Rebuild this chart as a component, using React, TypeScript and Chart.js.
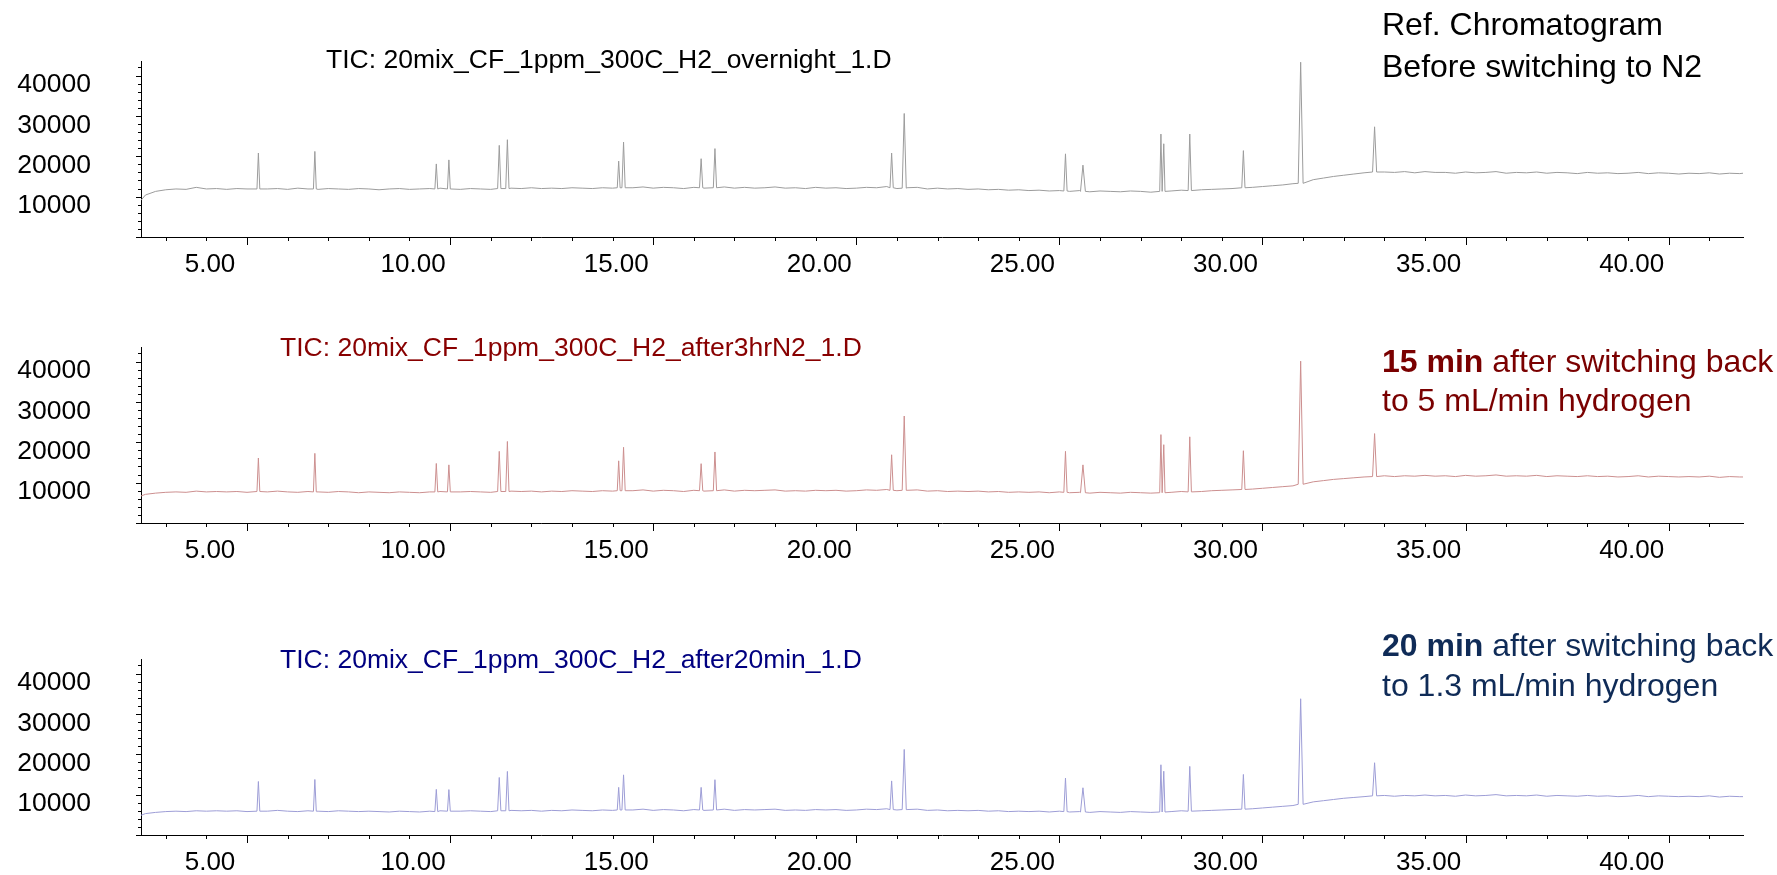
import React, { useEffect, useRef } from 'react';
import { Chart, registerables } from 'chart.js';

Chart.register(...registerables);

// ---- Data (retention time in minutes, abundance) ----
const baseTimes = [
  2.39,
  2.5, 2.75, 3, 3.25, 3.5, 3.75, 4, 4.25,
  4.5, 4.75, 5, 5.25, 5.5, 5.75, 6, 6.25,
  6.5, 6.75, 7, 7.25, 7.5, 7.75, 8, 8.25,
  8.5, 8.75, 9, 9.25, 9.5, 9.75, 10, 10.25,
  10.5, 10.75, 11, 11.25, 11.5, 11.75, 12, 12.25,
  12.5, 12.75, 13, 13.25, 13.5, 13.75, 14, 14.25,
  14.5, 14.75, 15, 15.25, 15.5, 15.75, 16, 16.25,
  16.5, 16.75, 17, 17.25, 17.5, 17.75, 18, 18.25,
  18.5, 18.75, 19, 19.25, 19.5, 19.75, 20, 20.25,
  20.5, 20.75, 21, 21.25, 21.5, 21.75, 22, 22.25,
  22.5, 22.75, 23, 23.25, 23.5, 23.75, 24, 24.25,
  24.5, 24.75, 25, 25.25, 25.5, 25.75, 26, 26.25,
  26.5, 26.75, 27, 27.25, 27.5, 27.75, 28, 28.25,
  28.5, 28.75, 29, 29.25, 29.5, 29.75, 30, 30.25,
  30.5, 30.75, 31, 31.25, 31.5, 31.75, 32, 32.25,
  32.5, 32.75, 33, 33.25, 33.5, 33.75, 34, 34.25,
  34.5, 34.75, 35, 35.25, 35.5, 35.75, 36, 36.25,
  36.5, 36.75, 37, 37.25, 37.5, 37.75, 38, 38.25,
  38.5, 38.75, 39, 39.25, 39.5, 39.75, 40, 40.25,
  40.5, 40.75, 41, 41.25, 41.5, 41.75,
  41.83,
];

const baselineOvernight = [
  9100,
  10400, 11300, 11700, 11900, 11800, 12300, 11900, 12000,
  11800, 12000, 11900, 12100, 11900, 12000, 11800, 12100,
  11900, 11800, 12000, 11900, 11800, 12000, 11900, 11700,
  11900, 12000, 11800, 11900, 12000, 12100, 11900, 11800,
  12000, 11900, 11800, 12000, 12100, 12000, 12200, 12000,
  12100, 12000, 12200, 12100, 12000, 12200, 12100, 12300,
  12200, 12400, 12100, 12300, 12200, 12000, 12300, 12100,
  12200, 12400, 12100, 12300, 12100, 12200, 12400, 12100,
  12200, 12000, 12300, 12100, 12200, 12000, 12100, 12300,
  12200, 12500, 12000, 12200, 12300, 11900, 12100, 11900,
  12000, 11800, 11900, 11700, 11800, 11600, 11700, 11500,
  11600, 11400, 11500, 11300, 11500, 11200, 11400, 11300,
  11200, 11400, 11300, 11100, 11500, 11400, 11600, 11500,
  11700, 11800, 11900, 12000, 12100, 12300, 12500, 12700,
  12900, 13200, 13900, 14200, 14600, 15000, 15300, 15600,
  15900, 16200, 16100, 16000, 16200, 15900, 16200, 16000,
  16000, 15800, 16100, 15900, 16000, 16200, 15800, 16000,
  15900, 16100, 15800, 16000, 15900, 15700, 16000, 15800,
  15900, 15700, 15800, 16000, 15700, 15900, 15800, 15600,
  15800, 15700, 15900, 15600, 15800, 15700,
  15800,
];

const baselineAfter3hrN2 = [
  6700,
  7100, 7400, 7600, 7700, 7600, 7900, 7700, 7800,
  7700, 7800, 7600, 7800, 7700, 7900, 7700, 7600,
  7800, 7700, 7600, 7800, 7700, 7500, 7700, 7600,
  7500, 7700, 7600, 7500, 7700, 7800, 7600, 7700,
  7800, 7700, 7600, 7800, 7900, 7800, 7900, 7700,
  7900, 7800, 8000, 7900, 7800, 8000, 7900, 8100,
  8000, 8200, 7900, 8100, 8000, 7800, 8100, 7900,
  8000, 8200, 7900, 8100, 8000, 8100, 8200, 7900,
  8000, 7900, 8100, 8000, 8100, 7900, 8000, 8200,
  8100, 8300, 8000, 8100, 8200, 7900, 8000, 7800,
  7900, 7800, 7900, 7700, 7800, 7600, 7700, 7600,
  7700, 7500, 7700, 7500, 7600, 7400, 7600, 7500,
  7400, 7600, 7500, 7400, 7700, 7600, 7800, 7700,
  7800, 8000, 8100, 8200, 8300, 8400, 8600, 8800,
  9000, 9200, 9800, 10200, 10500, 10800, 11000, 11200,
  11400, 11600, 11700, 11500, 11700, 11600, 11800, 11600,
  11700, 11500, 11800, 11600, 11700, 11900, 11600, 11700,
  11600, 11800, 11500, 11700, 11600, 11500, 11700, 11500,
  11600, 11400, 11500, 11700, 11400, 11600, 11500, 11400,
  11500, 11400, 11600, 11300, 11500, 11400,
  11400,
];

const baselineAfter20min = [
  4900,
  5300, 5600, 5800, 5900, 5800, 6000, 5900, 6000,
  5900, 6000, 5800, 6000, 5900, 6100, 5900, 5800,
  6000, 5900, 5800, 6000, 5900, 5800, 5900, 5800,
  5700, 5900, 5800, 5700, 5900, 6000, 5800, 5900,
  6000, 5900, 5800, 6000, 6100, 6000, 6100, 5900,
  6100, 6000, 6200, 6100, 6000, 6200, 6100, 6300,
  6200, 6400, 6100, 6300, 6200, 6000, 6300, 6100,
  6200, 6400, 6100, 6300, 6200, 6300, 6400, 6100,
  6200, 6100, 6300, 6200, 6300, 6100, 6200, 6400,
  6300, 6500, 6200, 6300, 6400, 6100, 6200, 6000,
  6100, 6000, 6100, 5900, 6000, 5800, 5900, 5800,
  5900, 5700, 5900, 5700, 5800, 5600, 5800, 5700,
  5600, 5800, 5700, 5600, 5900, 5800, 6000, 5900,
  6000, 6100, 6200, 6300, 6400, 6500, 6700, 6900,
  7100, 7300, 7900, 8200, 8500, 8800, 9100, 9300,
  9500, 9700, 9800, 9600, 9800, 9700, 9900, 9700,
  9800, 9600, 9900, 9700, 9800, 10000, 9700, 9800,
  9700, 9900, 9600, 9800, 9700, 9600, 9800, 9600,
  9700, 9500, 9600, 9800, 9500, 9700, 9600, 9500,
  9600, 9500, 9700, 9400, 9600, 9500,
  9500,
];

const peakTimes = [5.28, 6.67, 9.66, 9.97, 11.21, 11.41, 14.15, 14.27, 16.18, 16.52, 20.87, 21.18, 25.15, 25.58, 27.5, 27.57, 28.21, 29.53, 30.94, 32.76];
const peakHalfWidths = [0.035, 0.035, 0.035, 0.035, 0.04, 0.04, 0.035, 0.04, 0.04, 0.04, 0.04, 0.05, 0.04, 0.06, 0.03, 0.03, 0.04, 0.04, 0.06, 0.05];

const apexOvernight = [20800, 21200, 18100, 19100, 22700, 24100, 18800, 23500, 19400, 21900, 20800, 30600, 20600, 17800, 25500, 23100, 25500, 21400, 43300, 27300];
const peakBaseOvernight = [11900, 11900, 11900, 11900, 12000, 12000, 12200, 12200, 12200, 12200, 12200, 12100, 11400, 11300, 11300, 11300, 11500, 12200, 13300, 16100];

const apexAfter3hrN2 = [16100, 17250, 14750, 14400, 17750, 20200, 15400, 18750, 14700, 17600, 16900, 26500, 17750, 14400, 21900, 19400, 21350, 17900, 40100, 22150];
const peakBaseAfter3hrN2 = [7800, 7700, 7700, 7700, 7800, 7800, 8000, 8000, 8000, 8000, 8100, 8100, 7600, 7500, 7500, 7500, 7700, 8300, 9600, 11500];

const apexAfter20min = [13250, 13750, 11300, 11250, 14250, 15750, 11800, 14900, 11800, 13700, 13400, 21200, 14100, 11700, 17400, 15800, 17000, 15000, 33750, 17900];
const peakBaseAfter20min = [5900, 5900, 5800, 5900, 6000, 6000, 6200, 6200, 6200, 6200, 6300, 6300, 5800, 5700, 5700, 5700, 5900, 6400, 7600, 9700];

// ---- Axis ticks ----
const xMajorTicks = [5, 10, 15, 20, 25, 30, 35, 40];
const xMinorTicks = [3, 4, 5, 6, 7, 8, 9, 10, 11, 12, 13, 14, 15, 16, 17, 18, 19, 20, 21, 22, 23, 24, 25, 26, 27, 28, 29, 30, 31, 32, 33, 34, 35, 36, 37, 38, 39, 40, 41];
const yMajorTicks = [10000, 20000, 30000, 40000];
const yMinorTicks = [0, 2000, 4000, 6000, 8000, 10000, 12000, 14000, 16000, 18000, 20000, 22000, 24000, 26000, 28000, 30000, 32000, 34000, 36000, 38000, 40000, 42000];

const X_MIN = 2.39;
const X_MAX = 41.83;
const Y_MIN = 0;
const Y_MAX = 43600;

const FONT = "'Liberation Sans', Arial, Helvetica, sans-serif";

type Pt = { x: number; y: number };

function buildTrace(baseVals: number[], apex: number[], bases: number[]): Pt[] {
  const pts: Pt[] = [];
  baseTimes.forEach((t, i) => {
    const inside = peakTimes.some((pt, k) => t >= pt - peakHalfWidths[k] && t <= pt + peakHalfWidths[k]);
    if (!inside) pts.push({ x: t, y: baseVals[i] });
  });
  peakTimes.forEach((pt, k) => {
    const w = peakHalfWidths[k];
    pts.push({ x: pt - w, y: bases[k] }, { x: pt, y: apex[k] }, { x: pt + w, y: bases[k] });
  });
  pts.sort((a, b) => a.x - b.x);
  return pts;
}

const tickPlugin = {
  id: 'chemTicks',
  afterDraw(chart: any) {
    const { ctx, chartArea, scales } = chart;
    const xs = scales.x;
    const ys = scales.y;
    ctx.save();
    ctx.strokeStyle = '#000';
    ctx.lineWidth = 1;
    ctx.beginPath();
    xMinorTicks.forEach((t) => {
      const px = Math.round(xs.getPixelForValue(t)) + 0.5;
      const len = xMajorTicks.includes(t) ? 8 : 4;
      ctx.moveTo(px, chartArea.bottom);
      ctx.lineTo(px, chartArea.bottom + len);
    });
    yMinorTicks.forEach((v) => {
      const py = Math.round(ys.getPixelForValue(v)) + 0.5;
      const len = v % 10000 === 0 ? 5 : 3;
      ctx.moveTo(chartArea.left, py);
      ctx.lineTo(chartArea.left - len, py);
    });
    ctx.stroke();
    ctx.restore();
  },
};

const CANVAS_H = 226;

function Panel({ top, trace, color }: { top: number; trace: Pt[]; color: string }) {
  const ref = useRef<HTMLCanvasElement>(null);
  useEffect(() => {
    if (!ref.current) return;
    const chart = new Chart(ref.current, {
      type: 'line',
      data: {
        datasets: [
          {
            data: trace,
            borderColor: color,
            borderWidth: 1,
            pointRadius: 0,
            tension: 0,
            fill: false,
          },
        ],
      },
      options: {
        animation: false,
        responsive: false,
        events: [],
        layout: { padding: { top: 10, right: 34, bottom: 0, left: 0 } },
        plugins: {
          legend: { display: false },
          tooltip: { enabled: false },
          title: { display: false },
        },
        scales: {
          x: {
            type: 'linear',
            min: X_MIN,
            max: X_MAX,
            afterBuildTicks: (s: any) => {
              s.ticks = xMajorTicks.map((v) => ({ value: v }));
            },
            afterFit: (s: any) => {
              s.height = 40;
              s.paddingLeft = 0;
              s.paddingRight = 0;
            },
            grid: { display: true, drawOnChartArea: false, drawTicks: false },
            border: { display: true, color: '#000', width: 1 },
            ticks: {
              autoSkip: false,
              maxRotation: 0,
              minRotation: 0,
              labelOffset: -37,
              padding: 12,
              color: '#000',
              font: { family: FONT, size: 26 },
              callback: (v: any) => Number(v).toFixed(2),
            },
          },
          y: {
            type: 'linear',
            min: Y_MIN,
            max: Y_MAX,
            afterBuildTicks: (s: any) => {
              s.ticks = yMajorTicks.map((v) => ({ value: v }));
            },
            afterFit: (s: any) => {
              s.width = 141;
              s.paddingTop = 0;
              s.paddingBottom = 0;
            },
            grid: { display: true, drawOnChartArea: false, drawTicks: false },
            border: { display: true, color: '#000', width: 1 },
            ticks: {
              padding: 50,
              labelOffset: 9.5,
              color: '#000',
              font: { family: FONT, size: 26.5 },
              callback: (v: any) => String(v),
            },
          },
        },
      },
      plugins: [tickPlugin],
    } as any);
    return () => chart.destroy();
  }, [trace, color]);
  return (
    <canvas
      ref={ref}
      width={1777}
      height={CANVAS_H}
      style={{ position: 'absolute', left: 0, top, width: 1777, height: CANVAS_H }}
    />
  );
}

const traceOvernight = buildTrace(baselineOvernight, apexOvernight, peakBaseOvernight);
const traceAfter3hrN2 = buildTrace(baselineAfter3hrN2, apexAfter3hrN2, peakBaseAfter3hrN2);
const traceAfter20min = buildTrace(baselineAfter20min, apexAfter20min, peakBaseAfter20min);

const titleStyle = (left: number, top: number, color: string): React.CSSProperties => ({
  position: 'absolute',
  left,
  top,
  fontFamily: FONT,
  fontSize: 26.5,
  lineHeight: '26px',
  color,
  whiteSpace: 'nowrap',
});

const noteStyle = (top: number, color: string, lh: number): React.CSSProperties => ({
  position: 'absolute',
  left: 1382,
  top,
  fontFamily: FONT,
  fontSize: 32,
  lineHeight: `${lh}px`,
  color,
  whiteSpace: 'nowrap',
});

export default function App() {
  return (
    <div
      style={{
        position: 'fixed',
        left: 0,
        top: 0,
        width: 1777,
        height: 875,
        background: '#fff',
        overflow: 'hidden',
      }}
    >
      <Panel top={51} trace={traceOvernight} color="#9c9c9c" />
      <Panel top={337} trace={traceAfter3hrN2} color="#cc8f8f" />
      <Panel top={649} trace={traceAfter20min} color="#9d9dd6" />

      <div style={titleStyle(326, 46, '#000')}>TIC: 20mix_CF_1ppm_300C_H2_overnight_1.D</div>
      <div style={titleStyle(280, 334, '#880000')}>TIC: 20mix_CF_1ppm_300C_H2_after3hrN2_1.D</div>
      <div style={titleStyle(280, 646, '#000080')}>TIC: 20mix_CF_1ppm_300C_H2_after20min_1.D</div>

      <div style={noteStyle(3, '#000', 42)}>
        <div>Ref. Chromatogram</div>
        <div>Before switching to N2</div>
      </div>
      <div style={noteStyle(342, '#7a0000', 39)}>
        <div>
          <b>15 min</b> after switching back
        </div>
        <div>to 5 mL/min hydrogen</div>
      </div>
      <div style={noteStyle(626, '#0f2b57', 39.5)}>
        <div>
          <b>20 min</b> after switching back
        </div>
        <div>to 1.3 mL/min hydrogen</div>
      </div>
    </div>
  );
}
